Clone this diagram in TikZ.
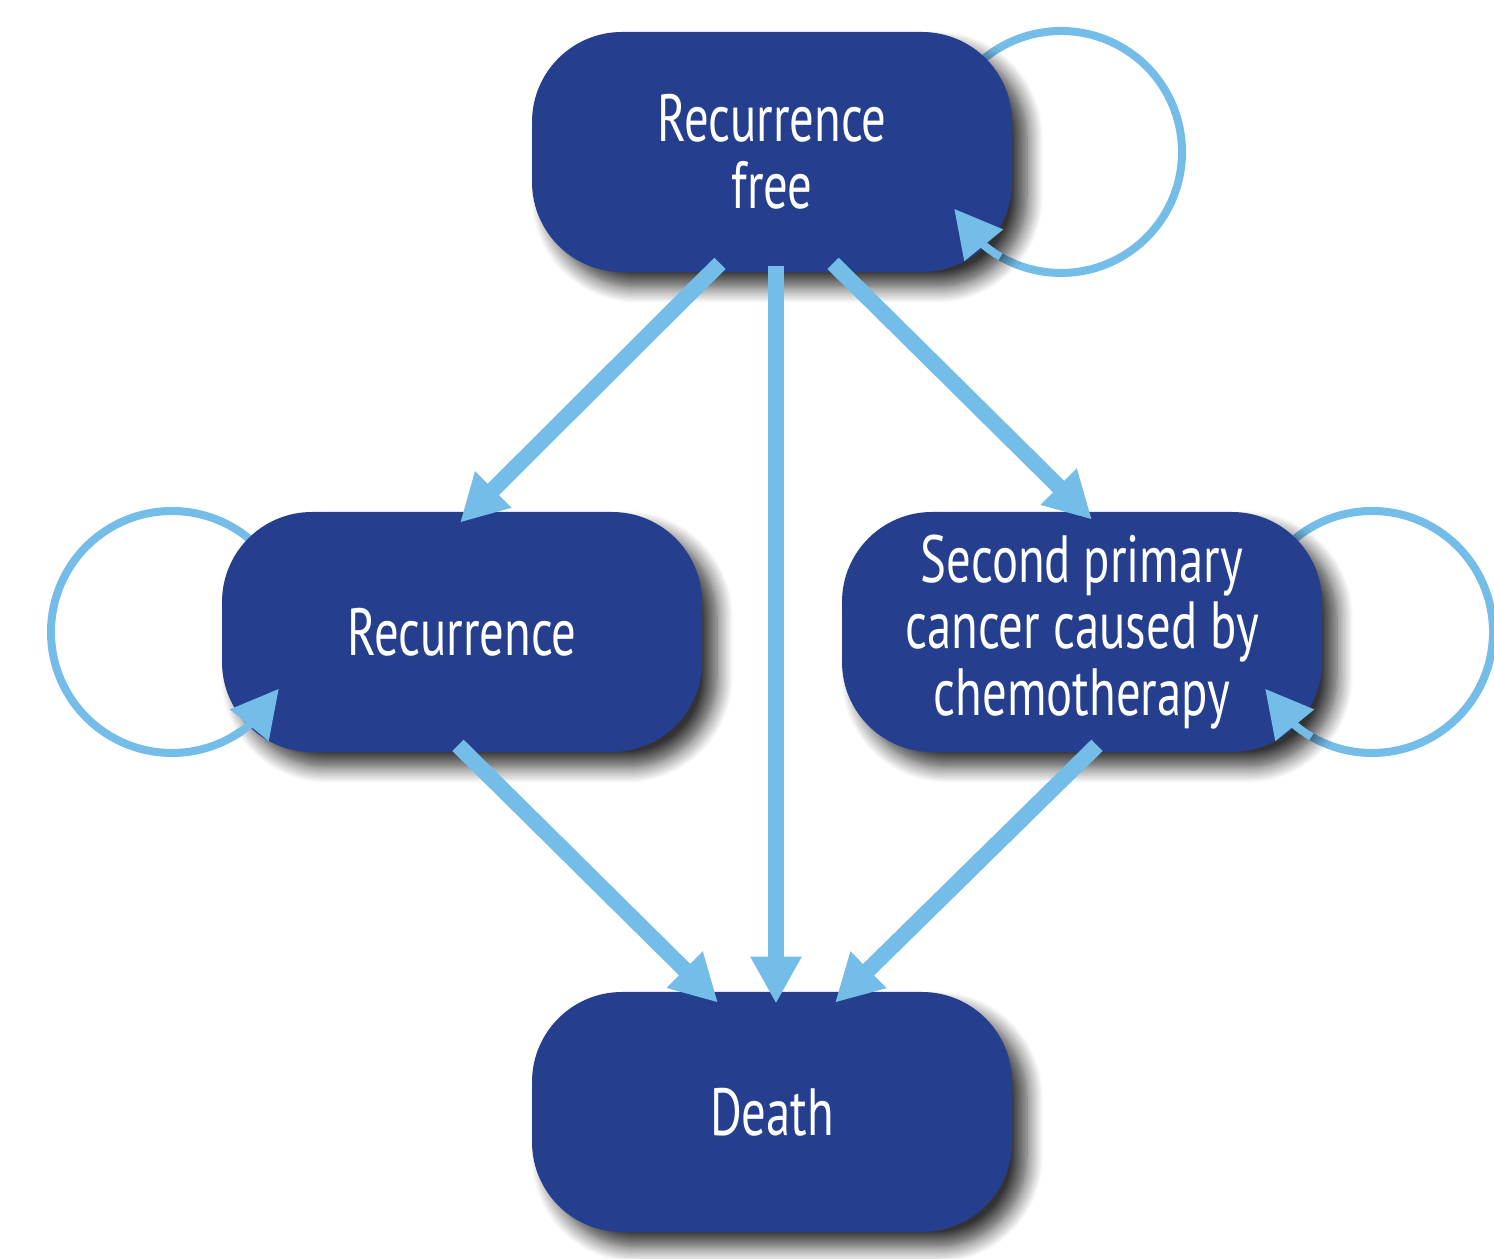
\documentclass[tikz,border=0pt]{standalone}
\usepackage{fontspec}
\newfontfamily\statefont[FakeStretch=0.73]{PT Sans}
\usetikzlibrary{positioning, arrows.meta, bending}
\usetikzlibrary{shadows.blur, backgrounds}
\definecolor{statefill}{RGB}{37,63,142}
\definecolor{flowblue}{RGB}{116,189,232}

\begin{document}
\begin{tikzpicture}[node distance=9.6cm and 6.2cm, on grid,
    statebox/.style={rectangle, rounded corners=1.8cm, fill=statefill,
        minimum width=9.6cm, minimum height=4.8cm, align=center, text=white,
        font=\statefont\fontsize{38}{38}\selectfont,
        blur shadow={shadow xshift=0.3cm, shadow yshift=-0.3cm,
            shadow blur radius=0.32cm, shadow blur steps=12, shadow opacity=80}},
    flow/.style={color=flowblue, line width=0.32cm,
        -{Triangle[length=0.94cm, width=0.96cm]}},
    loopline/.style={color=flowblue, line width=0.16cm},
    looptip/.style={loopline, -{Triangle[length=0.94cm, width=0.96cm]}}]
    \useasboundingbox (0,0) rectangle (29.88,25.18);

    \node[statebox] (free) at (15.44,22.14) {Recurrence\\free};
    \node[statebox] (rec) [below left=of free] {Recurrence};
    \node[statebox] (second) [below right=of free] {Second primary\\cancer caused by\\chemotherapy};
    \node[statebox] (death) [below=19.2cm of free] {Death};

    % centres of the self loops
    \coordinate[right=5.78cm of free] (freeloop);
    \coordinate[left=5.8cm of rec] (recloop);
    \coordinate[right=5.8cm of second] (secondloop);

    \begin{scope}[on background layer]
        \draw[loopline] (freeloop) ++(150:2.42) arc[start angle=150, end angle=-125, radius=2.42];
        \draw[loopline] (recloop) ++(30:2.42) arc[start angle=30, end angle=305, radius=2.42];
        \draw[loopline] (secondloop) ++(150:2.42) arc[start angle=150, end angle=-125, radius=2.42];
    \end{scope}
    \draw[looptip] (freeloop) ++(-120:2.42) arc[start angle=-120, end angle=-152, radius=2.42];
    \draw[looptip] (recloop) ++(300:2.42) arc[start angle=300, end angle=332, radius=2.42];
    \draw[looptip] (secondloop) ++(-120:2.42) arc[start angle=-120, end angle=-152, radius=2.42];

    \path[every edge/.append style=flow]
    ([shift={(-1.04,0.18)}]free.south) edge ([shift={(-0.04,-0.22)}]rec.north)
    ([shift={(0.08,0.12)}]free.south) edge ([shift={(0.08,-0.24)}]death.north)
    ([shift={(1.22,0.18)}]free.south) edge ([shift={(0.2,-0.16)}]second.north)
    ([shift={(-0.08,0.14)}]rec.south) edge ([shift={(-1.08,-0.22)}]death.north)
    ([shift={(0.3,0.14)}]second.south) edge ([shift={(1.26,-0.22)}]death.north);
\end{tikzpicture}
\end{document}
